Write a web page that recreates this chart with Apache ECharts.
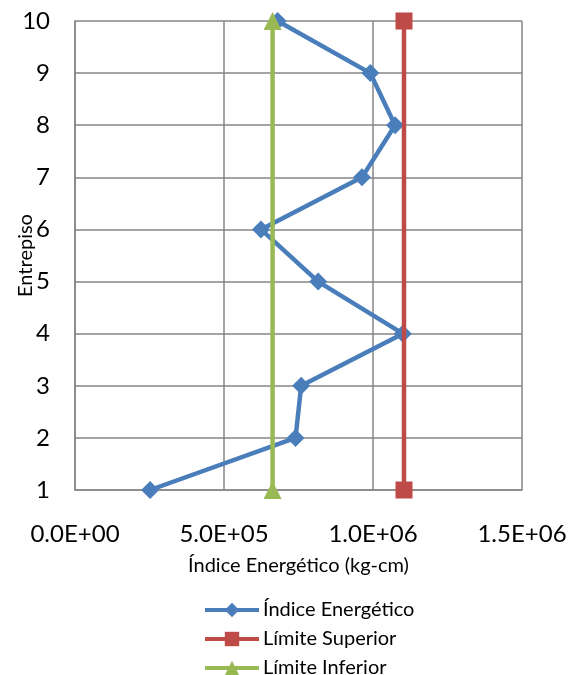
<!DOCTYPE html>
<html>
<head>
<meta charset="utf-8">
<script src="https://cdn.jsdelivr.net/npm/echarts@6/dist/echarts.min.js"></script>
<style>html,body{margin:0;padding:0;background:#fff}#c{width:568px;height:675px}</style>
</head>
<body>
<div id="c"></div>
<script>
const entrepisos = [1, 2, 3, 4, 5, 6, 7, 8, 9, 10];
const indiceEnergetico = [2.52e5, 7.40e5, 7.59e5, 1.10e6, 8.16e5, 6.24e5, 9.63e5, 1.074e6, 9.91e5, 6.8e5];
const limiteSuperior = [1.104e6, 1.104e6];
const limiteInferior = [6.63e5, 6.63e5];
const limiteEntrepisos = [1, 10];
const xTicks = [0, 5e5, 1e6, 1.5e6];

const font = 'Lato';
const chart = echarts.init(document.getElementById('c'), null, {renderer: 'canvas'});
function fmt(v) {
  const e = v === 0 ? 0 : Math.floor(Math.log10(v));
  const m = v === 0 ? 0 : v / Math.pow(10, e);
  return m.toFixed(1) + 'E+' + String(e).padStart(2, '0');
}
chart.setOption({
  animation: false,
  textStyle: {fontFamily: font},
  grid: {left: 75, right: 46, top: 21, bottom: 185, containLabel: false, outerBoundsMode: 'none'},
  xAxis: {
    type: 'value', min: xTicks[0], max: xTicks[xTicks.length - 1], interval: 5e5,
    name: 'Índice Energético (kg-cm)', nameLocation: 'middle', nameGap: 66, nameMoveOverlap: false,
    nameTextStyle: {fontSize: 20, color: '#000', fontFamily: font},
    axisLine: {show: true, lineStyle: {color: '#868686', width: 1.5}},
    axisTick: {show: false},
    axisLabel: {fontSize: 24, color: '#000', margin: 32, formatter: fmt, fontFamily: font},
    splitLine: {show: true, lineStyle: {color: '#868686', width: 1.5}}
  },
  yAxis: {
    type: 'value', min: 1, max: 10, interval: 1,
    name: 'Entrepiso', nameLocation: 'middle', nameGap: 39, nameRotate: 90, nameMoveOverlap: false,
    nameTextStyle: {fontSize: 20, color: '#000', fontFamily: font},
    axisLine: {show: true, lineStyle: {color: '#868686', width: 1.5}},
    axisTick: {show: false},
    axisLabel: {fontSize: 24, color: '#000', margin: 25, fontFamily: font},
    splitLine: {show: true, lineStyle: {color: '#868686', width: 1.5}}
  },
  legend: {
    orient: 'vertical', left: 198, top: 595, height: 100, itemWidth: 54, itemHeight: 18, itemGap: 9,
    lineStyle: {width: 4},
    textStyle: {fontSize: 20, color: '#000', fontFamily: font, padding: [0, 0, 0, -1]},
    data: ['Índice Energético', 'Límite Superior', 'Límite Inferior']
  },
  series: [
    {
      name: 'Índice Energético', type: 'line',
      data: entrepisos.map((e, i) => [indiceEnergetico[i], e]),
      symbol: 'diamond', symbolSize: 18,
      lineStyle: {color: '#4A7EBB', width: 4.5},
      itemStyle: {color: '#4A7EBB'},
      z: 2
    },
    {
      name: 'Límite Superior', type: 'line',
      data: limiteEntrepisos.map((e, i) => [limiteSuperior[i], e]),
      symbol: 'rect', symbolSize: 17,
      lineStyle: {color: '#BE4B48', width: 4.5},
      itemStyle: {color: '#BE4B48'},
      z: 3
    },
    {
      name: 'Límite Inferior', type: 'line',
      data: limiteEntrepisos.map((e, i) => [limiteInferior[i], e]),
      symbol: 'triangle', symbolSize: 18,
      lineStyle: {color: '#98B954', width: 4.5},
      itemStyle: {color: '#98B954'},
      z: 4
    }
  ]
});
</script>
</body>
</html>
